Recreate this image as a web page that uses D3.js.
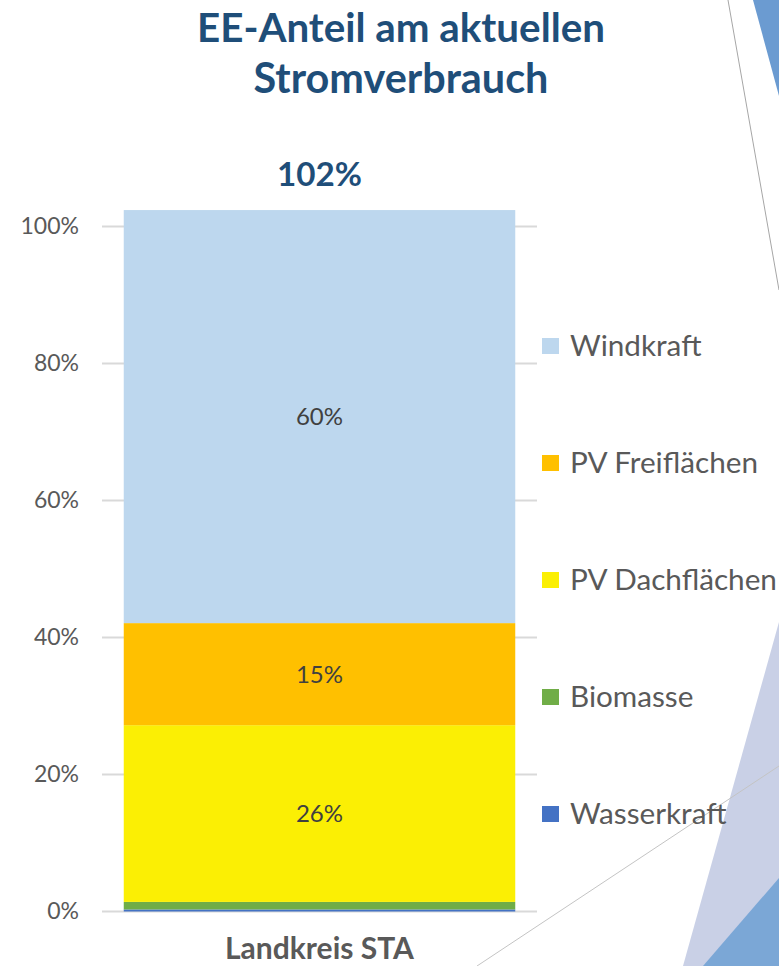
<!DOCTYPE html>
<html>
<head>
<meta charset="utf-8">
<script src="https://cdn.jsdelivr.net/npm/d3@7"></script>
<style>
  body { margin: 0; background: #fff; }
  svg { display: block; font-family: Lato, "Open Sans", sans-serif; }
</style>
</head>
<body>
<div id="chart"></div>
<script>
// data (shares of current consumption, in %)
const categories = ["Landkreis STA"]
const series = ["Wasserkraft", "Biomasse", "PV Dachflächen", "PV Freiflächen", "Windkraft"]
const values = [0.3, 1.1, 25.8, 14.9, 60.3]
const colors = ["#4472C4", "#70AD47", "#FBEF04", "#FFC000", "#BDD7EE"]
const labelled = [false, false, true, true, true]
const yTicks = [0, 20, 40, 60, 80, 100]
const titleLines = ["EE-Anteil am aktuellen", "Stromverbrauch"]

const width = 779, height = 966

const svg = d3.select("#chart").append("svg")
    .attr("width", width)
    .attr("height", height)

// squeeze / stretch a text to the width it has in the picture
function fit(sel, w) {
    const fs = parseFloat(sel.attr("font-size"))
    const cur = sel.node().getComputedTextLength()
    sel.attr("font-size", fs * w / cur)
}

// slide background decoration
const deco = svg.append("g")
deco.append("polygon").attr("points", "779,622 683,966 779,966").attr("fill", "#c9d0e6")
deco.append("polygon").attr("points", "779,878 703,966 779,966").attr("fill", "#7ba7d6")
deco.append("polygon").attr("points", "753,0 779,0 779,96").attr("fill", "#6b9bd1")
deco.append("line").attr("x1", 728).attr("y1", 0).attr("x2", 779).attr("y2", 290)
    .attr("stroke", "#a6a6a6").attr("stroke-width", 1)
deco.append("line").attr("x1", 779).attr("y1", 766).attr("x2", 477).attr("y2", 966)
    .attr("stroke", "#c4c4c4").attr("stroke-width", 1)

// title
const t1 = svg.append("text").attr("x", 401).attr("y", 42)
    .attr("text-anchor", "middle").attr("font-size", 34).attr("font-weight", "bold")
    .attr("fill", "#1F4E79").text(titleLines[0])
fit(t1, 408)
const t2 = svg.append("text").attr("x", 401).attr("y", 93)
    .attr("text-anchor", "middle").attr("font-size", 34).attr("font-weight", "bold")
    .attr("fill", "#1F4E79").text(titleLines[1])
fit(t2, 295)

// scales
const x = d3.scaleBand().domain(categories).range([102, 537]).paddingInner(0.1).paddingOuter(0.05)
const y = d3.scaleLinear().domain([0, 100]).range([911.5, 226.5])

// gridlines
svg.append("g").selectAll("line")
    .data(yTicks)
    .enter()
    .append("line")
    .attr("x1", 102).attr("x2", 537)
    .attr("y1", d => y(d)).attr("y2", d => y(d))
    .attr("stroke", "#d9d9d9").attr("stroke-width", 2)

// y axis, labels only
const yAxis = svg.append("g")
    .attr("transform", "translate(79,0)")
    .call(d3.axisLeft(y).tickValues(yTicks).tickSize(0).tickPadding(0).tickFormat(d => d + "%"))
yAxis.select(".domain").remove()
yAxis.selectAll("text")
    .attr("font-family", "Lato, sans-serif")
    .attr("font-size", 23)
    .attr("fill", "#595959")

// stack
const row = {}
series.forEach((s, i) => row[s] = values[i])
const stacked = d3.stack().keys(series)([row])

const bars = svg.append("g")
bars.selectAll("rect")
    .data(stacked)
    .enter()
    .append("rect")
    .attr("x", x(categories[0]))
    .attr("width", x.bandwidth())
    .attr("y", d => y(d[0][1]))
    .attr("height", d => y(d[0][0]) - y(d[0][1]))
    .attr("fill", (d, i) => colors[i])

// value labels in segment middles
bars.selectAll("text")
    .data(stacked.filter((d, i) => labelled[i]))
    .enter()
    .append("text")
    .attr("x", x(categories[0]) + x.bandwidth() / 2)
    .attr("y", d => y((d[0][0] + d[0][1]) / 2))
    .attr("dy", "0.35em")
    .attr("text-anchor", "middle")
    .attr("font-size", 24)
    .attr("fill", "#404040")
    .text(d => Math.round(d[0][1] - d[0][0]) + "%")

// total on top
const total = d3.sum(values)
const tot = svg.append("text")
    .attr("x", x(categories[0]) + x.bandwidth() / 2)
    .attr("y", 186)
    .attr("text-anchor", "middle")
    .attr("font-size", 28).attr("font-weight", "bold")
    .attr("fill", "#1F4E79")
    .text(Math.round(total) + "%")
fit(tot, 85)

// category label
const cat = svg.append("text")
    .attr("x", x(categories[0]) + x.bandwidth() / 2)
    .attr("y", 959)
    .attr("text-anchor", "middle")
    .attr("font-size", 24).attr("font-weight", "bold")
    .attr("fill", "#595959")
    .text(categories[0])
fit(cat, 189)

// legend, reversed order like the stack
const legendRows = series.map((s, i) => ({ name: s, color: colors[i] })).reverse()
const ly = d3.scalePoint().domain(legendRows.map(d => d.name)).range([346, 814])
const legend = svg.append("g").selectAll("g")
    .data(legendRows)
    .enter()
    .append("g")
    .attr("transform", d => `translate(542,${ly(d.name)})`)
legend.append("rect")
    .attr("x", 0).attr("y", -8)
    .attr("width", 17).attr("height", 16)
    .attr("fill", d => d.color)
const ltext = legend.append("text")
    .attr("x", 28).attr("dy", "0.35em")
    .attr("font-size", 26)
    .attr("fill", "#595959")
    .text(d => d.name)
// size all legend entries from the longest one
const longest = ltext.filter(d => d.name === "PV Dachflächen")
fit(longest, 207)
ltext.attr("font-size", longest.attr("font-size"))
</script>
</body>
</html>
